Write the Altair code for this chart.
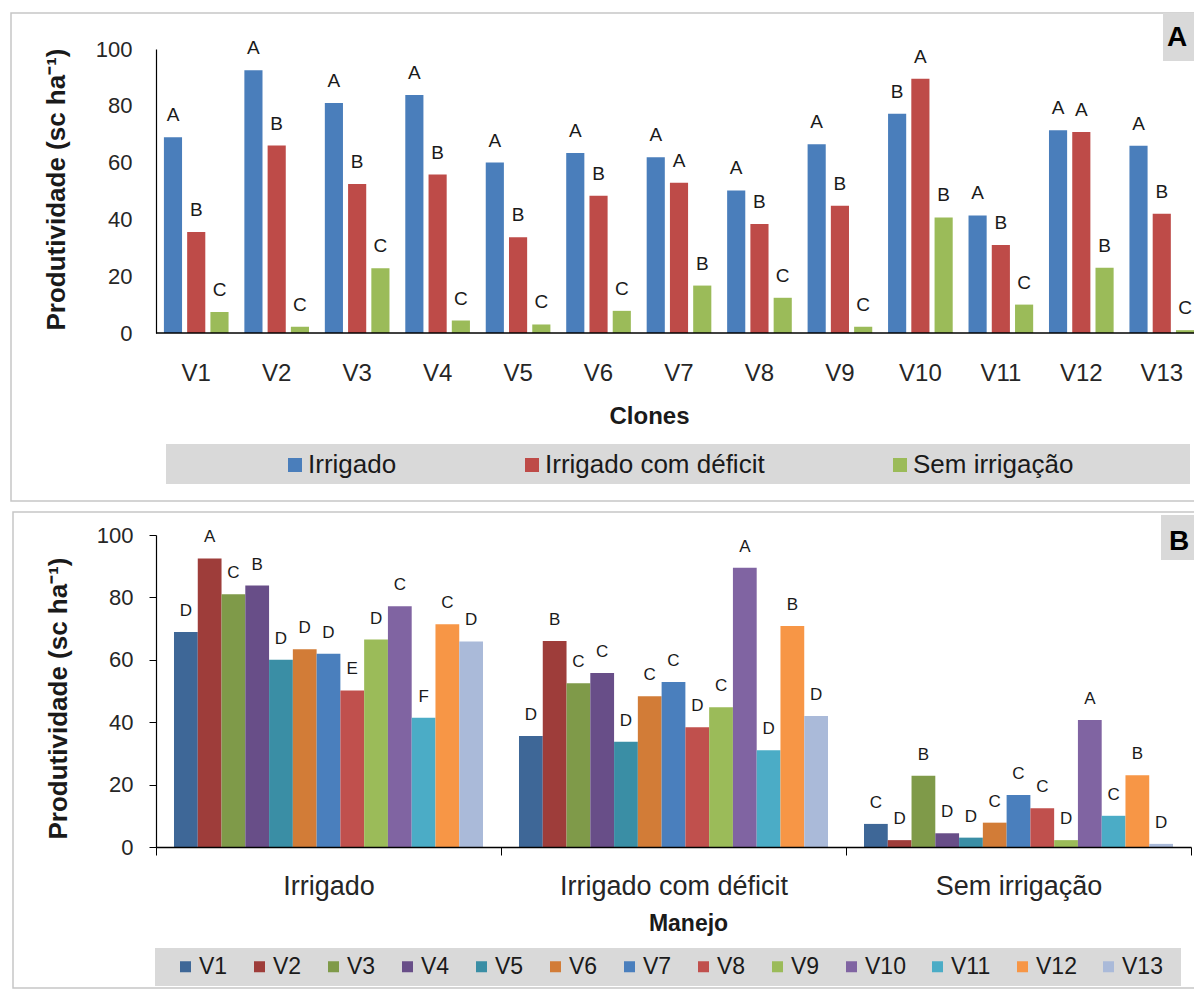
import altair as alt
import pandas as pd

FONT = "Liberation Sans"

clones = ["V1", "V2", "V3", "V4", "V5", "V6", "V7", "V8", "V9", "V10", "V11", "V12", "V13"]
manejos = ["Irrigado", "Irrigado com déficit", "Sem irrigação"]

irrigado = [68.9, 92.5, 81.0, 83.8, 60.0, 63.4, 61.9, 50.2, 66.5, 77.2, 41.4, 71.4, 65.9]
deficit = [35.6, 66.0, 52.5, 55.8, 33.7, 48.3, 52.9, 38.4, 44.8, 89.5, 31.0, 70.8, 42.0]
sem_irrigacao = [7.4, 2.2, 22.8, 4.4, 3.0, 7.8, 16.7, 12.4, 2.2, 40.7, 10.0, 23.0, 1.0]

letras_a_irrigado = ["A", "A", "A", "A", "A", "A", "A", "A", "A", "B", "A", "A", "A"]
letras_a_deficit = ["B", "B", "B", "B", "B", "B", "A", "B", "B", "A", "B", "A", "B"]
letras_a_sem = ["C", "C", "C", "C", "C", "C", "B", "C", "C", "B", "C", "B", "C"]

letras_b_irrigado = ["D", "A", "C", "B", "D", "D", "D", "E", "D", "C", "F", "C", "D"]
letras_b_deficit = ["D", "B", "C", "C", "D", "C", "C", "D", "C", "A", "D", "B", "D"]
letras_b_sem = ["C", "D", "B", "D", "D", "C", "C", "C", "D", "A", "C", "B", "D"]

cores_a = ["#4a7ebb", "#be4b48", "#9bbb59"]
cores_b = ["#3e6797", "#9e3d3a", "#7f9a49", "#684e88", "#3a8ea5", "#d27c37",
           "#4a7fbd", "#c0504d", "#9bbb59", "#8064a2", "#4bacc6", "#f79646", "#aabad9"]

rows = []
for m, vals, la, lb in zip(manejos,
                           [irrigado, deficit, sem_irrigacao],
                           [letras_a_irrigado, letras_a_deficit, letras_a_sem],
                           [letras_b_irrigado, letras_b_deficit, letras_b_sem]):
    for c, v, a, b in zip(clones, vals, la, lb):
        rows.append({"Clone": c, "Manejo": m, "valor": v, "letraA": a, "letraB": b})
df = pd.DataFrame(rows)
one = pd.DataFrame({"k": [0]})

TXT = "#262626"
YTITLE = "Produtividade (sc ha⁻¹)"

# ---------------- Panel A ----------------
WA, HA = 1035, 284
RA = 1046   # x range of panel A (runs slightly past the visible edge, as in the cropped original)
EA = 1057   # frame / axis line run past the cropped edge

xa = alt.X("Clone:N", sort=clones,
           scale=alt.Scale(range=[0, RA], paddingInner=0, paddingOuter=0),
           axis=alt.Axis(title="Clones", domain=False, ticks=False, tickSize=0, labelAngle=0,
                         labelFont=FONT, labelFontSize=24, labelColor=TXT, labelPadding=28,
                         labelLimit=0,
                         titleFont=FONT, titleFontSize=24, titleFontWeight="bold", titleColor="#1a1a1a",
                         titleX=493, titleY=90, titleBaseline="alphabetic", titleAlign="center",
                         zindex=1))
xoa = alt.XOffset("Manejo:N", sort=manejos, scale=alt.Scale(paddingInner=0.22, paddingOuter=0.34))
ya = alt.Y("valor:Q", scale=alt.Scale(domain=[0, 100], nice=False),
           axis=alt.Axis(values=[0, 20, 40, 60, 80, 100], title=YTITLE, grid=False,
                         ticks=False, tickSize=0, domainColor="black", domainWidth=1.2,
                         labelFont=FONT, labelFontSize=22, labelColor=TXT, labelPadding=24,
                         titleFont=FONT, titleFontSize=26, titleFontWeight="bold", titleColor="#1a1a1a",
                         titleX=-100, titleY=140, titleAngle=-90, titleBaseline="middle",
                         titleAlign="center", zindex=1))

base_a = alt.Chart(df).encode(x=xa, xOffset=xoa, y=ya)
bars_a = base_a.mark_bar().encode(
    color=alt.Color("Manejo:N", sort=manejos,
                    scale=alt.Scale(domain=manejos, range=cores_a),
                    legend=alt.Legend(orient="none", legendX=126, legendY=403, direction="horizontal",
                                      columns=3, title=None, symbolType="square", symbolSize=196,
                                      symbolStrokeWidth=0, symbolOpacity=1, labelFont=FONT,
                                      labelFontSize=26, labelColor="#1a1a1a", labelOffset=0,
                                      labelLimit=0, columnPadding=122, padding=0, zindex=1))
)
text_a = base_a.mark_text(dy=-16, baseline="alphabetic", align="center", font=FONT, fontSize=19,
                          color="#1a1a1a").encode(text="letraA:N")

frame_a = alt.Chart(one).mark_rect(fill="white", fillOpacity=0, stroke="#c6c6c6", strokeWidth=1.5).encode(
    x=alt.value(-145), x2=alt.value(EA), y=alt.value(-36), y2=alt.value(452))
legbox_a = alt.Chart(one).mark_rect(fill="#d9d9d9").encode(
    x=alt.value(10), x2=alt.value(1034), y=alt.value(395), y2=alt.value(435))
tagbox_a = alt.Chart(one).mark_rect(fill="#d9d9d9").encode(
    x=alt.value(1007), x2=alt.value(EA), y=alt.value(-36), y2=alt.value(12))
tag_a = alt.Chart(one).mark_text(text="A", font=FONT, fontSize=28, fontWeight="bold", color="black",
                                 align="center", baseline="alphabetic").encode(
    x=alt.value(1021), y=alt.value(-3))
axis_line_a = alt.Chart(one).mark_rule(color="black", strokeWidth=1.5).encode(
    x=alt.value(0), x2=alt.value(EA), y=alt.value(HA))

panel_a = alt.layer(frame_a, legbox_a, tagbox_a, tag_a, bars_a, text_a, axis_line_a).properties(
    width=WA, height=HA)

# ---------------- Panel B ----------------
WB, HB = 1035, 312

xb = alt.X("Manejo:N", sort=manejos,
           scale=alt.Scale(paddingInner=0, paddingOuter=0),
           axis=alt.Axis(title="Manejo", labelAngle=0, tickBand="extent", ticks=True, tickSize=8,
                         tickColor="black", domainColor="black", domainWidth=1.5,
                         labelFont=FONT, labelFontSize=27, labelColor=TXT, labelPadding=18,
                         labelLimit=0,
                         titleFont=FONT, titleFontSize=23, titleFontWeight="bold", titleColor="#1a1a1a",
                         titleX=532, titleY=83, titleBaseline="alphabetic", titleAlign="center",
                         zindex=1))
xob = alt.XOffset("Clone:N", sort=clones, scale=alt.Scale(paddingInner=0, paddingOuter=0.757))
yb = alt.Y("valor:Q", scale=alt.Scale(domain=[0, 100], nice=False),
           axis=alt.Axis(values=[0, 20, 40, 60, 80, 100], title=YTITLE, grid=False,
                         ticks=True, tickSize=7, tickColor="black", domainColor="black", domainWidth=1.2,
                         labelFont=FONT, labelFontSize=22, labelColor=TXT, labelPadding=16,
                         titleFont=FONT, titleFontSize=26, titleFontWeight="bold", titleColor="#1a1a1a",
                         titleX=-98, titleY=163, titleAngle=-90, titleBaseline="middle",
                         titleAlign="center", zindex=1))

base_b = alt.Chart(df).encode(x=xb, xOffset=xob, y=yb)
bars_b = base_b.mark_bar().encode(
    color=alt.Color("Clone:N", sort=clones,
                    scale=alt.Scale(domain=clones, range=cores_b),
                    legend=alt.Legend(orient="none", legendX=18, legendY=420, direction="horizontal",
                                      columns=13, title=None, symbolType="square", symbolSize=121,
                                      symbolStrokeWidth=0, symbolOpacity=1, labelFont=FONT,
                                      labelFontSize=23, labelColor="#1a1a1a", labelOffset=2,
                                      labelLimit=0, columnPadding=20, padding=0, zindex=1))
)
text_b = base_b.mark_text(dy=-16, baseline="alphabetic", align="center", font=FONT, fontSize=17,
                          color="#1a1a1a").encode(text="letraB:N")

frame_b = alt.Chart(one).mark_rect(fill="white", fillOpacity=0, stroke="#c6c6c6", strokeWidth=1.5).encode(
    x=alt.value(-143), x2=alt.value(1059), y=alt.value(-23), y2=alt.value(453))
legbox_b = alt.Chart(one).mark_rect(fill="#d9d9d9").encode(
    x=alt.value(-1), x2=alt.value(1025), y=alt.value(413), y2=alt.value(451))
tagbox_b = alt.Chart(one).mark_rect(fill="#d9d9d9").encode(
    x=alt.value(1005), x2=alt.value(1059), y=alt.value(-20), y2=alt.value(25))
tag_b = alt.Chart(one).mark_text(text="B", font=FONT, fontSize=28, fontWeight="bold", color="black",
                                 align="center", baseline="alphabetic").encode(
    x=alt.value(1023), y=alt.value(15))

panel_b = alt.layer(frame_b, legbox_b, tagbox_b, tag_b, bars_b, text_b).properties(
    width=WB, height=HB)

# negative right padding crops the chart at the window edge, like the cropped original
chart = alt.vconcat(panel_a, panel_b, spacing=7).resolve_scale(
    x="independent", y="independent", xOffset="independent", color="independent"
).resolve_legend(color="independent").properties(
    padding={"left": 1, "top": 3, "right": -23, "bottom": 0},
    background="white",
).configure_view(stroke="transparent")

chart.save("out.html", embed_options={"renderer": "svg", "actions": False})
